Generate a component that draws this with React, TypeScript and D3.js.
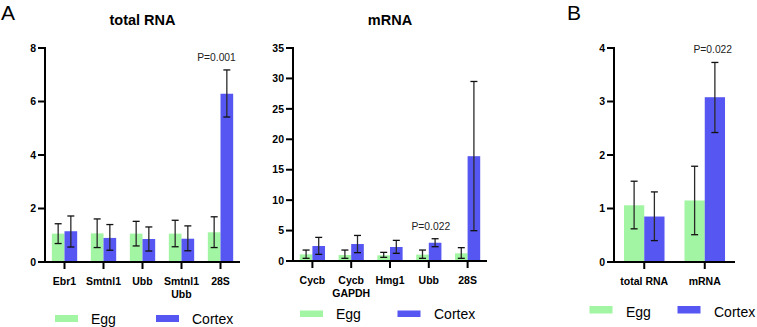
import React from "react";
import * as d3 from "d3";

const totalCats = ["Ebr1", "Smtnl1", "Ubb", "Smtnl1\nUbb", "28S"];
const totalEgg = [1.06, 1.07, 1.06, 1.06, 1.11];
const totalEggLo = [0.69, 0.54, 0.6, 0.57, 0.54];
const totalEggHi = [1.43, 1.61, 1.52, 1.56, 1.69];
const totalCortex = [1.15, 0.9, 0.86, 0.87, 6.29];
const totalCortexLo = [0.56, 0.44, 0.41, 0.42, 5.42];
const totalCortexHi = [1.72, 1.4, 1.31, 1.35, 7.18];
const totalTicks = [0, 2, 4, 6, 8];

const mrnaCats = ["Cycb", "Cycb\nGAPDH", "Hmg1", "Ubb", "28S"];
const mrnaEgg = [1.09, 0.98, 0.93, 1.04, 1.26];
const mrnaEggLo = [0.44, 0.44, 0.6, 0.44, 0.44];
const mrnaEggHi = [1.8, 1.8, 1.42, 1.8, 2.19];
const mrnaCortex = [2.46, 2.79, 2.3, 3.0, 17.22];
const mrnaCortexLo = [1.09, 1.37, 1.26, 2.35, 4.98];
const mrnaCortexHi = [3.88, 4.2, 3.39, 3.66, 29.5];
const mrnaTicks = [0, 5, 10, 15, 20, 25, 30, 35];

const bCats = ["total RNA", "mRNA"];
const bEgg = [1.06, 1.15];
const bEggLo = [0.62, 0.51];
const bEggHi = [1.51, 1.79];
const bCortex = [0.85, 3.08];
const bCortexLo = [0.4, 2.42];
const bCortexHi = [1.31, 3.73];
const bTicks = [0, 1, 2, 3, 4];

const seriesNames = ["Egg", "Cortex"];
const GREEN = "#a2f5a2";
const BLUE = "#5656f2";
const FONT = "'Liberation Sans', Arial, Helvetica, sans-serif";

type PanelProps = {
  cats: string[];
  egg: number[]; eggLo: number[]; eggHi: number[];
  cortex: number[]; cortexLo: number[]; cortexHi: number[];
  ticks: number[]; yMax: number;
  x0: number; x1: number; y0: number; y1: number;
  padInner: number;
  title?: string;
  pLabels: { cat: number; dx: number; text: string }[];
  legend: { sx: number; sy: number; sh: number; tx: number; ty: number; cx: number; ctx: number };
};

function Panel(p: PanelProps) {
  const x = d3.scaleBand<number>().domain(p.cats.map((_, i) => i)).range([p.x0, p.x1])
    .paddingInner(p.padInner).paddingOuter(p.padInner / 2);
  const y = d3.scaleLinear().domain([0, p.yMax]).range([p.y0, p.y1]);
  const bw = x.bandwidth() / 2;
  const series = [
    { v: p.egg, lo: p.eggLo, hi: p.eggHi, c: GREEN },
    { v: p.cortex, lo: p.cortexLo, hi: p.cortexHi, c: BLUE },
  ];
  return (
    <g style={{ fontFamily: FONT }}>
      {p.title && (
        <text x={(p.x0 + p.x1) / 2} y={25} textAnchor="middle" fontWeight="bold" fontSize={14.5}>{p.title}</text>
      )}
      {series.map((s, si) => p.cats.map((_, i) => {
        const bx = (x(i) as number) + si * bw;
        const cx = bx + bw / 2;
        return (
          <g key={`${si}-${i}`}>
            <rect x={bx} y={y(s.v[i])} width={bw} height={y(0) - y(s.v[i])} fill={s.c} />
            <line x1={cx} x2={cx} y1={y(s.lo[i])} y2={y(s.hi[i])} stroke="#2a2a2a" strokeWidth={1.3} />
            <line x1={cx - 3.5} x2={cx + 3.5} y1={y(s.lo[i])} y2={y(s.lo[i])} stroke="#111" strokeWidth={1.3} />
            <line x1={cx - 3.5} x2={cx + 3.5} y1={y(s.hi[i])} y2={y(s.hi[i])} stroke="#111" strokeWidth={1.3} />
          </g>
        );
      }))}
      {p.pLabels.map((pl, k) => {
        const top = Math.max(p.eggHi[pl.cat], p.cortexHi[pl.cat]);
        const cx = (x(pl.cat) as number) + x.bandwidth() / 2 + pl.dx;
        return (
          <text key={k} x={cx} y={y(top) - 9} textAnchor="middle" fontSize={10.3} fill="#222">{pl.text}</text>
        );
      })}
      <line x1={p.x0} x2={p.x0} y1={p.y1 - 1} y2={p.y0 + 1} stroke="#000" strokeWidth={2} />
      <line x1={p.x0 - 1} x2={p.x1} y1={p.y0} y2={p.y0} stroke="#000" strokeWidth={2} />
      {p.ticks.map((t) => (
        <g key={t}>
          <line x1={p.x0 - 7} x2={p.x0} y1={y(t)} y2={y(t)} stroke="#000" strokeWidth={2} />
          <text x={p.x0 - 9} y={y(t)} dy="0.36em" textAnchor="end" fontWeight="bold" fontSize={10.5}>{t}</text>
        </g>
      ))}
      {p.cats.map((c, i) => {
        const cx = (x(i) as number) + x.bandwidth() / 2;
        const lines = c.split("\n");
        return (
          <g key={c + i}>
            <line x1={cx} x2={cx} y1={p.y0} y2={p.y0 + 7} stroke="#000" strokeWidth={2} />
            {lines.map((l, li) => (
              <text key={li} x={cx} y={p.y0 + 23 + li * 13} textAnchor="middle" fontWeight="bold" fontSize={10.5}>{l}</text>
            ))}
          </g>
        );
      })}
      <rect x={p.legend.sx} y={p.legend.sy} width={23} height={p.legend.sh} fill={GREEN} />
      <text x={p.legend.tx} y={p.legend.ty} fontSize={14}>{seriesNames[0]}</text>
      <rect x={p.legend.cx} y={p.legend.sy} width={23} height={p.legend.sh} fill={BLUE} />
      <text x={p.legend.ctx} y={p.legend.ty} fontSize={14}>{seriesNames[1]}</text>
    </g>
  );
}

export default function App() {
  return (
    <svg width={757} height={327} style={{ position: "absolute", left: 0, top: 0, background: "#fff", fontFamily: FONT }}>
      <text x={1} y={20} fontSize={21}>A</text>
      <text x={567} y={20} fontSize={21}>B</text>
      <Panel cats={totalCats} egg={totalEgg} eggLo={totalEggLo} eggHi={totalEggHi}
        cortex={totalCortex} cortexLo={totalCortexLo} cortexHi={totalCortexHi}
        ticks={totalTicks} yMax={8} x0={45} x1={240} y0={262} y1={48} padInner={0.35}
        title="total RNA" pLabels={[{ cat: 4, dx: -4, text: "P=0.001" }]}
        legend={{ sx: 55, sy: 315, sh: 7, tx: 91, ty: 323.5, cx: 156, ctx: 192 }} />
      <Panel cats={mrnaCats} egg={mrnaEgg} eggLo={mrnaEggLo} eggHi={mrnaEggHi}
        cortex={mrnaCortex} cortexLo={mrnaCortexLo} cortexHi={mrnaCortexHi}
        ticks={mrnaTicks} yMax={35} x0={293} x1={487} y0={261} y1={48} padInner={0.35}
        title="mRNA" pLabels={[{ cat: 3, dx: 2, text: "P=0.022" }]}
        legend={{ sx: 300, sy: 310.5, sh: 6.5, tx: 336, ty: 319, cx: 397.5, ctx: 434 }} />
      <Panel cats={bCats} egg={bEgg} eggLo={bEggLo} eggHi={bEggHi}
        cortex={bCortex} cortexLo={bCortexLo} cortexHi={bCortexHi}
        ticks={bTicks} yMax={4} x0={614} x1={735} y0={262} y1={48} padInner={0.33}
        pLabels={[{ cat: 1, dx: 8, text: "P=0.022" }]}
        legend={{ sx: 589.5, sy: 306, sh: 7.5, tx: 626, ty: 316.5, cx: 677.5, ctx: 714 }} />
    </svg>
  );
}
